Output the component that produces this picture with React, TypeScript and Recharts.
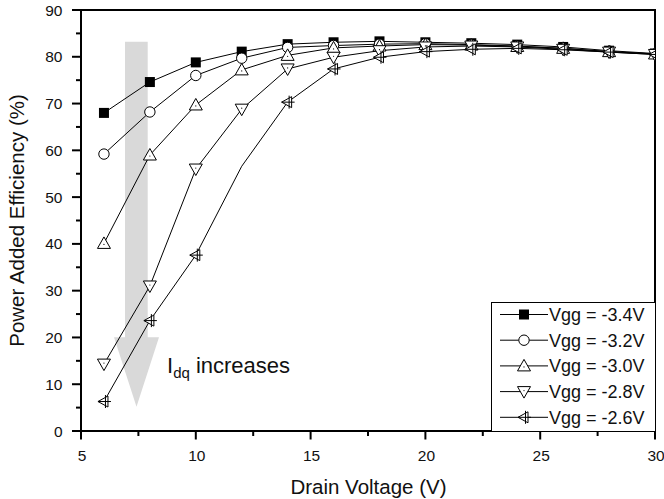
import React from 'react';
import { LineChart, Line, XAxis, YAxis, ReferenceArea, Legend } from 'recharts';

const drainVoltage = [6, 8, 10, 12, 14, 16, 18, 20, 22, 24, 26, 28, 30];
const vgg34 = [68.0, 74.6, 78.8, 81.1, 82.7, 83.1, 83.3, 83.1, 82.9, 82.6, 82.1, 81.3, 80.7];
const vgg32 = [59.2, 68.2, 76.0, 79.7, 82.0, 82.4, 82.7, 82.8, 82.6, 82.3, 81.8, 81.1, 80.6];
const vgg30 = [40.1, 59.0, 69.7, 77.2, 80.3, 81.9, 82.3, 82.6, 82.5, 82.2, 81.8, 81.1, 80.6];
const vgg28 = [14.3, 31.0, 56.0, 68.8, 77.4, 79.9, 81.3, 82.1, 82.3, 82.1, 81.6, 81.0, 80.5];
const vgg26 = [6.3, 23.6, 37.6, 56.6, 70.3, 77.4, 79.9, 81.1, 81.6, 81.8, 81.5, 81.0, 80.5];
const vgg26NoMarker = [12];

const xTicks = [5, 7.5, 10, 12.5, 15, 17.5, 20, 22.5, 25, 27.5, 30];
const yTicks = [0, 5, 10, 15, 20, 25, 30, 35, 40, 45, 50, 55, 60, 65, 70, 75, 80, 85, 90];

const seriesNames = ['Vgg = -3.4V', 'Vgg = -3.2V', 'Vgg = -3.0V', 'Vgg = -2.8V', 'Vgg = -2.6V'];
const seriesKeys = ['s34', 's32', 's30', 's28', 's26'];
const markerTypes = ['square', 'circle', 'up', 'down', 'left'];

const data = drainVoltage.map((x, i) => ({
  x,
  s34: vgg34[i],
  s32: vgg32[i],
  s30: vgg30[i],
  s28: vgg28[i],
  s26: vgg26[i],
}));

const FONT = '"Liberation Sans", Arial, sans-serif';

function Marker({ type, x, y }: { type: string; x: number; y: number }) {
  if (type === 'square') {
    return <rect x={x - 5} y={y - 5} width={10} height={10} fill="#000" />;
  }
  if (type === 'circle') {
    return <circle cx={x} cy={y} r={5.2} fill="#fff" stroke="#000" strokeWidth={1} />;
  }
  if (type === 'up') {
    return (
      <g>
        <polygon points={`${x},${y - 6.5} ${x - 6.5},${y + 5} ${x + 6.5},${y + 5}`} fill="#fff" stroke="#000" strokeWidth={1} />
        <circle cx={x} cy={y + 1} r={0.6} fill="#000" />
      </g>
    );
  }
  if (type === 'down') {
    return (
      <g>
        <polygon points={`${x},${y + 6.5} ${x - 6.5},${y - 5} ${x + 6.5},${y - 5}`} fill="#fff" stroke="#000" strokeWidth={1} />
        <circle cx={x} cy={y - 1} r={0.6} fill="#000" />
      </g>
    );
  }
  return (
    <g>
      <polygon points={`${x - 6},${y} ${x + 4},${y - 5.5} ${x + 4},${y + 5.5}`} fill="#fff" stroke="#000" strokeWidth={1} />
      <line x1={x - 6} y1={y} x2={x + 7} y2={y} stroke="#000" strokeWidth={1} />
      <line x1={x + 1.5} y1={y - 6.5} x2={x + 1.5} y2={y + 6.5} stroke="#000" strokeWidth={1} />
    </g>
  );
}

const makeDot = (type: string, skip: number[]) => (props: any) => {
  const { cx, cy, index, payload } = props;
  if (cx == null || cy == null || (payload && skip.includes(payload.x))) {
    return <g key={`d-${type}-${index}`} />;
  }
  return (
    <g key={`d-${type}-${index}`}>
      <Marker type={type} x={cx} y={cy} />
    </g>
  );
};

const XTick = (props: any) => {
  const { x, y, payload } = props;
  const major = payload.value % 5 === 0;
  return (
    <g>
      <line x1={x} y1={y} x2={x} y2={y + (major ? 8.5 : 5)} stroke="#000" strokeWidth={2} />
      {major && (
        <text x={x + 1} y={y + 29.5} textAnchor="middle" fontSize={15.5} fontFamily={FONT} fill="#111">
          {payload.value}
        </text>
      )}
    </g>
  );
};

const YTick = (props: any) => {
  const { x, y, payload } = props;
  const major = payload.value % 10 === 0;
  return (
    <g>
      <line x1={x} y1={y} x2={x - (major ? 9 : 5)} y2={y} stroke="#000" strokeWidth={2} />
      {major && (
        <text x={x - 18.5} y={y + 5.5} textAnchor="end" fontSize={15.5} fontFamily={FONT} fill="#111">
          {payload.value}
        </text>
      )}
    </g>
  );
};

const renderLegend = () => (
  <svg width={164} height={129} style={{ display: 'block' }}>
    <rect x={0} y={0} width={164} height={129} fill="#fff" />
    <line x1={0.5} y1={0} x2={0.5} y2={129} stroke="#000" strokeWidth={1} />
    <line x1={0} y1={0.5} x2={164} y2={0.5} stroke="#000" strokeWidth={1} />
    {seriesNames.map((name, i) => {
      const cy = 12.5 + i * 25.7;
      return (
        <g key={name}>
          <line x1={9} y1={cy} x2={57} y2={cy} stroke="#000" strokeWidth={1} />
          <Marker type={markerTypes[i]} x={33} y={cy} />
          <text x={58} y={cy + 6.3} fontSize={18} fontFamily={FONT} fill="#111">
            {name}
          </text>
        </g>
      );
    })}
  </svg>
);

export default function App() {
  return (
    <div style={{ position: 'absolute', left: 0, top: 0, width: 664, height: 499, background: '#fff', overflow: 'hidden' }}>
      <svg width={664} height={499} style={{ position: 'absolute', left: 0, top: 0 }}>
        <polygon
          points="125,41.7 147.7,41.7 147.7,337.3 159,337.3 136.5,406.7 114,337.3 125,337.3"
          fill="#d9d9d9"
        />
        <text x={167} y={373} fontSize={22} fontFamily={FONT} fill="#111">
          I<tspan fontSize={15} dy={5}>dq</tspan>
          <tspan fontSize={22} dy={-5}> increases</tspan>
        </text>
        <text x={368.5} y={493.5} textAnchor="middle" fontSize={20.5} fontFamily={FONT} fill="#111">
          Drain Voltage (V)
        </text>
        <text
          x={24}
          y={220.5}
          textAnchor="middle"
          fontSize={20.5}
          fontFamily={FONT}
          fill="#111"
          transform="rotate(-90, 24, 220.5)"
        >
          Power Added Efficiency (%)
        </text>
      </svg>
      <div style={{ position: 'absolute', left: 0, top: 0 }}>
        <LineChart width={664} height={499} data={data} margin={{ top: 10, right: 9, bottom: 0, left: 0 }}>
          <XAxis
            dataKey="x"
            type="number"
            domain={[5, 30]}
            ticks={xTicks}
            interval={0}
            axisLine={false}
            tickLine={false}
            tickSize={0}
            tickMargin={0}
            tick={<XTick />}
            height={68}
            allowDataOverflow
          />
          <YAxis
            type="number"
            domain={[0, 90]}
            ticks={yTicks}
            interval={0}
            axisLine={false}
            tickLine={false}
            tickSize={0}
            tickMargin={0}
            tick={<YTick />}
            width={81}
            allowDataOverflow
          />
          <ReferenceArea x1={5} x2={30} y1={0} y2={90} fill="none" fillOpacity={0} stroke="#000" strokeWidth={2} ifOverflow="visible" />
          {seriesKeys.map((k, i) => (
            <Line
              key={k}
              dataKey={k}
              name={seriesNames[i]}
              type="linear"
              stroke="#000"
              strokeWidth={1}
              dot={makeDot(markerTypes[i], k === 's26' ? vgg26NoMarker : [])}
              activeDot={false}
              isAnimationActive={false}
            />
          ))}
          <Legend
            layout="vertical"
            align="center"
            verticalAlign="middle"
            content={renderLegend}
            wrapperStyle={{ position: 'absolute', left: 491, top: 302, width: 164, height: 129 }}
          />
        </LineChart>
      </div>
    </div>
  );
}
